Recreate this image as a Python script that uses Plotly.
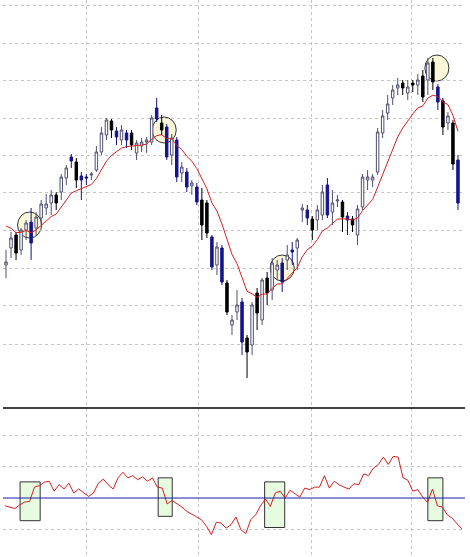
import numpy as np
import pandas as pd
import plotly.graph_objects as go
from plotly.subplots import make_subplots

## CANDLE DATA (W = white/up, K = black/down, B = blue/down)
kinds = list("WWKWWBWWWWKWWBKBBWWWWKBWBKWWWWBKBWBWBWBKKBWBKWWBKWKWKWWBWBWWBKWWBWWKBKWWWWWWWWWKWKWKWKBKWKB")
opens = [135, 152, 165, 150, 170, 178, 172, 182, 192, 197, 205, 208, 222, 243, 238, 224, 223, 225, 230, 248,
         265, 279, 269, 260, 267, 267, 247, 254, 258, 258, 292, 277, 273, 245, 260, 227, 228, 214, 213, 200,
         197, 163, 135, 152, 117, 75, 88, 98, 62, 55, 107, 80, 122, 110, 130, 137, 140, 150, 152, 190,
         190, 181, 180, 185, 215, 188, 199, 198, 184, 181, 165, 193, 220, 220, 228, 267, 287, 302, 312, 317,
         307, 317, 315, 324, 320, 338, 313, 299, 277, 277, 240]
highs = [150, 168, 168, 172, 180, 192, 188, 200, 206, 210, 208, 226, 235, 246, 242, 228, 226, 228, 254, 273,
         282, 281, 273, 275, 270, 270, 260, 262, 263, 285, 302, 285, 276, 266, 263, 238, 232, 220, 217, 212,
         200, 165, 158, 155, 120, 85, 110, 102, 65, 98, 112, 122, 128, 142, 140, 142, 155, 158, 162, 196,
         195, 184, 195, 215, 222, 210, 205, 200, 188, 184, 195, 226, 230, 226, 272, 290, 305, 315, 322, 320,
         320, 320, 326, 330, 342, 342, 316, 302, 288, 280, 245]
lows = [122, 142, 140, 145, 160, 140, 165, 175, 185, 185, 190, 200, 215, 232, 212, 200, 215, 220, 228, 245,
        260, 262, 255, 255, 252, 250, 240, 248, 247, 255, 278, 265, 240, 235, 218, 218, 208, 205, 195, 160,
        162, 130, 125, 115, 85, 65, 80, 45, 22, 45, 70, 75, 95, 100, 120, 108, 130, 135, 130, 178,
        175, 160, 170, 180, 182, 175, 193, 168, 165, 168, 155, 190, 210, 213, 225, 262, 280, 295, 305, 305,
        300, 308, 305, 298, 305, 310, 290, 265, 270, 230, 190]
closes = [138, 162, 147, 170, 177, 157, 183, 196, 196, 205, 197, 223, 232, 239, 220, 220, 222, 226, 248, 267,
          280, 270, 263, 270, 260, 255, 257, 258, 260, 282, 281, 270, 243, 262, 223, 233, 213, 217, 198, 175,
          167, 133, 153, 118, 88, 80, 95, 58, 48, 95, 87, 120, 107, 137, 135, 118, 145, 148, 160, 192,
          182, 170, 190, 208, 185, 197, 200, 183, 180, 175, 191, 223, 223, 223, 268, 284, 296, 310, 315, 312,
          313, 315, 320, 303, 337, 318, 298, 273, 284, 236, 197]

## OSCILLATOR (lower panel)
osc = [47.5, 47.1, 46.6, 47.8, 48.7, 48.9, 53.5, 54.0, 55.1, 55.4, 52.2, 54.3, 52.9, 54.8, 51.6, 52.9, 51.8,
       50.5, 51.6, 54.8, 56.1, 54.3, 52.9, 56.5, 58.3, 56.5, 57.2, 55.9, 56.8, 55.4, 56.5, 53.5, 53.2, 48.1,
       49.2, 48.2, 47.1, 45.7, 44.9, 43.9, 43.0, 40.9, 38.2, 42.2, 41.9, 40.3, 41.4, 43.9, 39.8, 38.5, 43.0,
       44.6, 47.5, 49.7, 47.3, 51.6, 52.2, 50.0, 52.5, 51.4, 50.3, 53.2, 52.7, 53.5, 53.5, 57.2, 53.2, 55.4,
       54.3, 53.5, 52.9, 54.6, 54.3, 57.8, 57.2, 59.7, 60.8, 63.2, 60.8, 63.4, 63.2, 56.5, 55.7, 52.2, 52.7,
       50.3, 48.6, 52.9, 47.5, 47.1, 44.6, 43.5, 41.9, 40.0]

# highlighted spots: candle index, price centre / oscillator box x range and y range
circle_idx = [4.7, 31.5, 55.0, 85.8]
circle_price = [175, 270, 132, 332]
box_x = [(2.8, 6.8), (30.3, 33.1), (51.5, 55.5), (84.0, 87.0)]
box_y = [(42.7, 55.2), (44.1, 56.5), (40.5, 55.2), (42.7, 56.5)]

dF = pd.DataFrame({'kind': kinds, 'open': opens, 'high': highs, 'low': lows, 'close': closes})
dF['x'] = np.arange(len(dF))
# moving average of closes, seeded at the level shown at the left edge
ma = pd.concat([pd.Series([182.0]), dF['close']]).ewm(span=10, adjust=False).mean().iloc[1:].values

fig = make_subplots(rows=2, cols=1, shared_xaxes=True, vertical_spacing=0,
                    row_heights=[0.7325, 0.2675])

styles = {'W': ('white', '#505070'), 'K': ('black', 'black'), 'B': ('#14148c', '#14148c')}
for k, (fill, edge) in styles.items():
    d = dF[dF['kind'] == k]
    inc = dict(fillcolor=fill, line=dict(color=edge, width=1))
    fig.add_trace(go.Candlestick(x=d['x'], open=d['open'], high=d['high'], low=d['low'], close=d['close'],
                                 increasing=inc, decreasing=inc, whiskerwidth=0, showlegend=False,
                                 hoverinfo='skip'), row=1, col=1)

fig.add_trace(go.Scatter(x=dF['x'], y=ma, mode='lines', line=dict(color='#d42020', width=1),
                         showlegend=False), row=1, col=1)

osc_x = np.linspace(-0.2, 90.8, len(osc))
fig.add_trace(go.Scatter(x=osc_x, y=osc, mode='lines', line=dict(color='#d42020', width=1),
                         showlegend=False), row=2, col=1)

# circles around signal candles
for cx, cy in zip(circle_idx, circle_price):
    fig.add_shape(type='circle', xref='x', yref='y', x0=cx - 2.4, x1=cx + 2.4, y0=cy - 13, y1=cy + 13,
                  fillcolor='rgba(248,244,200,0.7)', line=dict(color='#333333', width=1), layer='below')

# boxes in oscillator
for (x0, x1), (y0, y1) in zip(box_x, box_y):
    fig.add_shape(type='rect', xref='x2', yref='y2', x0=x0, x1=x1, y0=y0, y1=y1,
                  fillcolor='#e6fbe0', line=dict(color='#333333', width=1), layer='below')

fig.add_hline(y=50, line=dict(color='#1c1cae', width=1), row=2, col=1)
fig.add_shape(type='line', xref='paper', yref='paper', x0=0, x1=1, y0=0.2675, y1=0.2675,
              line=dict(color='black', width=1.5))

grid = dict(showgrid=True, gridcolor='#c4c4c4', griddash='dot', gridwidth=1, showticklabels=False,
            zeroline=False, showline=False, ticks='')
fig.update_xaxes(**grid, tickvals=[16, 38.4, 60.8, 80.8], range=[-0.6, 91.4], rangeslider_visible=False)
fig.update_yaxes(**grid)
fig.update_yaxes(range=[-8, 400], tickvals=[56, 95, 132, 170, 208, 245, 282, 320, 357, 395], row=1, col=1)
fig.update_yaxes(range=[31, 79], tickvals=[40, 60, 70], row=2, col=1)

fig.update_layout(width=470, height=557, margin=dict(l=3, r=5, t=0, b=0),
                  plot_bgcolor='white', paper_bgcolor='white')

fig.write_html("out.html", config={'displayModeBar': False},
               post_script="document.body.style.margin='0';")
